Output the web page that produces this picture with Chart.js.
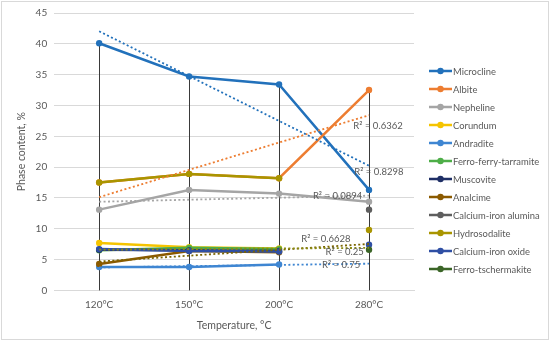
<!DOCTYPE html>
<html>
<head>
  <title>Phase content</title>
  <script src="https://cdn.jsdelivr.net/npm/chart.js"></script>
  <style>
    body { margin: 0; background: #fff; }
    #wrap { position: relative; width: 550px; height: 341px; }
    canvas { position: absolute; left: 0; top: 0; }
    #frame { position: absolute; left: 1px; top: 1px; width: 546px; height: 337px; border: 1px solid #d9d9d9; pointer-events: none; }
  </style>
</head>
<body>
<div id="wrap">
  <canvas id="myChart" width="550" height="341"></canvas>
  <div id="frame"></div>
</div>
<script>
// categories and series
const temps = ['120°C', '150°C', '200°C', '280°C'];

const microcline = [40.1, 34.7, 33.4, 16.3];
const albite = [17.5, 18.9, 18.2, 32.5];
const nepheline = [13.1, 16.3, 15.7, 14.4];
const corundum = [7.7, 7.0, 6.8, null];
const andradite = [3.8, 3.8, 4.2, null];
const ferroFerryTarramite = [6.5, 6.9, 6.7, null];
const muscovite = [6.6, 6.5, 6.4, null];
const analcime = [4.3, 6.4, 6.2, null];
const caFeAlumina = [null, null, null, 13.1];
const hydrosodalite = [17.5, 18.9, 18.2, 9.8];
const caFeOxide = [6.7, 6.4, 6.3, 7.4];
const ferroTschermakite = [null, null, null, 6.6];

// R² labels as printed on the chart
const r2Labels = ['R² = 0.6362', 'R² = 0.8298', 'R² = 0.0894', 'R² = 0.6628', 'R² = 0.25', 'R² = 0.75'];

const FONT = 'Lato, "Open Sans", sans-serif';
const GREY = '#595959';

const series = [
  { label: 'Microcline', data: microcline, color: '#2271bb', trend: true },
  { label: 'Albite', data: albite, color: '#ed7d31', trend: true },
  { label: 'Nepheline', data: nepheline, color: '#a5a5a5', trend: true },
  { label: 'Corundum', data: corundum, color: '#f5c400' },
  { label: 'Andradite', data: andradite, color: '#3f86d2', trend: true },
  { label: 'Ferro-ferry-tarramite', data: ferroFerryTarramite, color: '#4eae48', trend: true, trendColor: '#8a8a10' },
  { label: 'Muscovite', data: muscovite, color: '#1f2f66' },
  { label: 'Analcime', data: analcime, color: '#8b5a00', trend: true, trendColor: '#7a6400' },
  { label: 'Calcium-iron alumina', data: caFeAlumina, color: '#5e5e5e' },
  { label: 'Hydrosodalite', data: hydrosodalite, color: '#a99500', hideLast: true },
  { label: 'Calcium-iron oxide', data: caFeOxide, color: '#2f4fa4', hideLast: true },
  { label: 'Ferro-tschermakite', data: ferroTschermakite, color: '#3b6527' }
];

// least squares line over the points that exist, drawn across all categories
function trendOf(arr) {
  const pts = arr.map((v, i) => [i, v]).filter(p => p[1] !== null);
  const n = pts.length;
  const mx = pts.reduce((s, p) => s + p[0], 0) / n;
  const my = pts.reduce((s, p) => s + p[1], 0) / n;
  let sxy = 0, sxx = 0;
  pts.forEach(p => { sxy += (p[0] - mx) * (p[1] - my); sxx += (p[0] - mx) ** 2; });
  const b = sxy / sxx;
  return arr.map((v, i) => my + b * (i - mx));
}

const datasets = [];
series.forEach((s, i) => {
  datasets.push({
    label: s.label,
    data: s.data,
    borderColor: s.color,
    backgroundColor: s.color,
    borderWidth: 2.5,
    pointRadius: 3.2,
    pointBorderWidth: 0,
    tension: 0,
    spanGaps: false,
    order: 100 - i,
    segment: s.hideLast ? { borderColor: c => c.p1DataIndex === 3 ? 'rgba(0,0,0,0)' : undefined } : undefined
  });
});
series.forEach((s, i) => {
  if (!s.trend) return;
  datasets.push({
    label: '_trend',
    data: trendOf(s.data),
    borderColor: s.trendColor || s.color,
    borderWidth: 1.8,
    borderDash: [2, 2.4],
    pointRadius: 0,
    tension: 0,
    order: 0
  });
});

// R² label positions: [category index, value]
const r2Pos = [[3.1, 26.7], [3.11, 19.2], [2.65, 15.3], [2.52, 8.3], [2.73, 6.2], [2.69, 4.2]];

const extras = {
  id: 'extras',
  beforeDatasetsDraw(chart) {
    // drop lines from the highest point of each category to the axis
    const { ctx, scales: { x, y } } = chart;
    ctx.save();
    ctx.strokeStyle = '#3a3a3a';
    ctx.lineWidth = 1;
    temps.forEach((t, i) => {
      const vals = series.map(s => s.data[i]).filter(v => v !== null);
      const top = Math.max(...vals);
      const px = Math.round(x.getPixelForValue(i)) + 0.5;
      ctx.beginPath();
      ctx.moveTo(px, y.getPixelForValue(top));
      ctx.lineTo(px, y.getPixelForValue(0));
      ctx.stroke();
    });
    ctx.restore();
  },
  afterDraw(chart) {
    const { ctx, scales: { x, y } } = chart;
    ctx.save();
    ctx.font = '9.5px ' + FONT;
    ctx.fillStyle = GREY;
    ctx.textAlign = 'center';
    ctx.textBaseline = 'middle';
    r2Labels.forEach((txt, i) => {
      const p = r2Pos[i];
      const px = x.getPixelForValue(0) + p[0] * (x.getPixelForValue(1) - x.getPixelForValue(0));
      ctx.fillText(txt, px, y.getPixelForValue(p[1]));
    });

    // legend on the right
    ctx.textAlign = 'left';
    ctx.font = '9.4px ' + FONT;
    series.forEach((s, i) => {
      const cy = 71 + i * 18;
      ctx.strokeStyle = s.color;
      ctx.lineWidth = 2.5;
      ctx.beginPath();
      ctx.moveTo(429, cy);
      ctx.lineTo(452, cy);
      ctx.stroke();
      ctx.fillStyle = s.color;
      ctx.beginPath();
      ctx.arc(440.5, cy, 3.2, 0, Math.PI * 2);
      ctx.fill();
      ctx.fillStyle = GREY;
      ctx.fillText(s.label, 453, cy + 0.5);
    });
    ctx.restore();
  }
};

const ctx = document.getElementById('myChart').getContext('2d');
const myChart = new Chart(ctx, {
  type: 'line',
  data: { labels: temps, datasets: datasets },
  options: {
    responsive: false,
    animation: false,
    layout: { padding: { left: 15, right: 136, top: 7, bottom: 9 } },
    plugins: {
      legend: { display: false },
      tooltip: { enabled: false }
    },
    scales: {
      x: {
        offset: true,
        grid: { display: false, drawTicks: false },
        border: { color: '#d9d9d9' },
        ticks: { color: GREY, font: { family: FONT, size: 10 }, padding: 8 },
        title: { display: true, text: 'Temperature, °C', color: GREY, font: { family: FONT, size: 10.5 }, padding: { top: 1, bottom: 0 } }
      },
      y: {
        min: 0,
        max: 45,
        ticks: { stepSize: 5, color: GREY, font: { family: FONT, size: 10 }, padding: 7 },
        grid: { color: '#d9d9d9', drawTicks: false },
        border: { display: false },
        title: { display: true, text: 'Phase content, %', color: GREY, font: { family: FONT, size: 10.5 }, padding: { top: 0, bottom: 1 } }
      }
    }
  },
  plugins: [extras]
});
</script>
</body>
</html>
